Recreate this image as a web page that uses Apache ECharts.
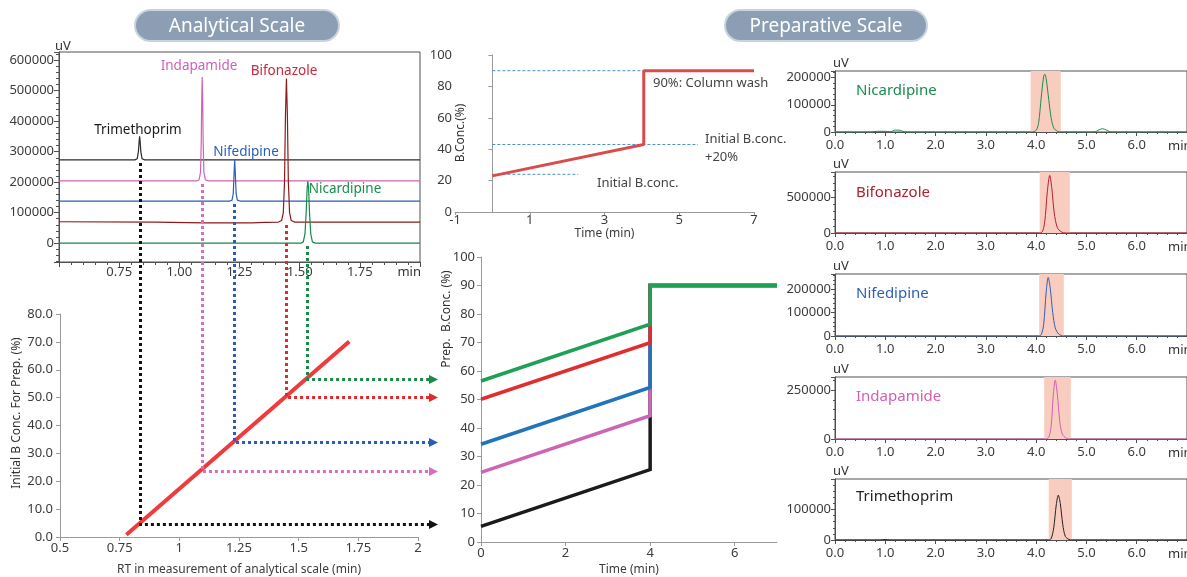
<!DOCTYPE html>
<html><head><meta charset="utf-8">
<script src="https://cdn.jsdelivr.net/npm/echarts@6/dist/echarts.min.js"></script>
<style>html,body{margin:0;padding:0;background:#fff}#c{width:1187px;height:577px}</style>
</head><body><div id="c"></div>
<script>
// ---------------- DATA ----------------
const compounds = ['Trimethoprim', 'Indapamide', 'Nifedipine', 'Bifonazole', 'Nicardipine'];
// analytical scale: retention times, trace baselines (uV) and the derived initial B conc. for prep
const analyticalRT = [0.835, 1.095, 1.230, 1.446, 1.534];
const analyticalBaseline = [273000, 204000, 138000, 69000, 0];
const initialPrepConc = [4.5, 23.8, 34.1, 50.3, 56.8];
const calibrationLine = [[0.778, 0.8], [1.712, 70.1]];

const trimethoprimAnalytical = [[0.5,273000],[0.815,273000],[0.825,277000],[0.830,300000],[0.833,335000],[0.835,350000],[0.837,335000],[0.840,300000],[0.845,277000],[0.856,273000],[2.0,273000]];
const indapamideAnalytical = [[0.5,204000],[1.072,204000],[1.082,208000],[1.088,232000],[1.091,330000],[1.093,470000],[1.095,545000],[1.097,470000],[1.099,330000],[1.102,232000],[1.108,208000],[1.12,204000],[2.0,204000]];
const nifedipineAnalytical = [[0.5,138000],[1.210,138000],[1.219,141000],[1.224,162000],[1.227,220000],[1.230,273000],[1.233,220000],[1.236,162000],[1.241,141000],[1.252,138000],[2.0,138000]];
const bifonazoleAnalytical = [[0.5,70000],[0.9,69000],[1.1,66500],[1.3,66500],[1.355,68000],[1.36,71000],[1.365,68000],[1.41,68500],[1.425,74000],[1.432,100000],[1.437,200000],[1.441,420000],[1.445,540000],[1.449,420000],[1.453,200000],[1.458,100000],[1.465,74000],[1.48,69000],[2.0,69000]];
const nicardipineAnalytical = [[0.5,0],[1.505,0],[1.515,4000],[1.522,30000],[1.527,100000],[1.531,180000],[1.534,203000],[1.537,180000],[1.541,100000],[1.546,30000],[1.553,4000],[1.565,0],[2.0,0]];
const analyticalTraces = [trimethoprimAnalytical, indapamideAnalytical, nifedipineAnalytical, bifonazoleAnalytical, nicardipineAnalytical];

// gradient template (top middle)
const templateTime = [0, 4.05, 4.05, 7];
const templateConc = [23, 43, 90, 90];
const refLevels = [90, 43, 24];
const refEnds = [4.3, 5.5, 2.3];

// prep gradients (bottom middle)
const prepStartConc = [5.5, 24.4, 34.3, 50.1, 56.5];
const prepEndConc = [25.4, 44.3, 54.2, 69.9, 76.4];
const prepGradTime = [0, 4, 4, 7];
const washConc = 90;

// preparative chromatograms (right)
const prepPanels = ['Nicardipine', 'Bifonazole', 'Nifedipine', 'Indapamide', 'Trimethoprim'];
const nicardipinePrep = [[0,0],[0.7,0],[0.85,2500],[1.0,2500],[1.1,1000],[1.2,7000],[1.3,6000],[1.4,0],[3.9,0],[4.0,6000],[4.05,35000],[4.1,125000],[4.15,205000],[4.17,212000],[4.2,195000],[4.25,120000],[4.3,50000],[4.35,15000],[4.42,3000],[4.5,0],[5.15,0],[5.25,8000],[5.32,12000],[5.4,7000],[5.5,0],[7,0]];
const bifonazolePrep = [[0,0],[4.05,0],[4.12,15000],[4.17,150000],[4.22,560000],[4.27,809000],[4.31,640000],[4.36,280000],[4.42,80000],[4.5,15000],[4.6,0],[7,0]];
const nifedipinePrep = [[0,0],[4.05,0],[4.1,5000],[4.15,50000],[4.2,190000],[4.24,251000],[4.28,205000],[4.33,100000],[4.38,35000],[4.45,8000],[4.55,0],[7,0]];
const indapamidePrep = [[0,0],[4.18,0],[4.25,8000],[4.3,70000],[4.34,220000],[4.38,300000],[4.42,230000],[4.47,90000],[4.52,25000],[4.6,4000],[4.7,0],[7,0]];
const trimethoprimPrep = [[0,0],[0.9,0],[1.0,1500],[1.1,0],[4.25,0],[4.3,5000],[4.35,40000],[4.4,115000],[4.44,147000],[4.48,120000],[4.53,50000],[4.58,12000],[4.65,2000],[4.72,0],[7,0]];
const prepTraces = [nicardipinePrep, bifonazolePrep, nifedipinePrep, indapamidePrep, trimethoprimPrep];
const fractionWindows = [[3.89,4.49],[4.07,4.67],[4.06,4.55],[4.16,4.69],[4.25,4.71]];
const prepYMax = [224000, 857000, 266000, 316000, 200000];
const prepYInterval = [100000, 500000, 100000, 250000, 100000];

// ---------------- STYLE ----------------
const FONT = "'Noto Sans', 'Open Sans', sans-serif";
const analyticalColors = ['#2b2b2b', '#d462b4', '#2c5fb3', '#8e1b1b', '#17884a'];
const connectorColors = ['#111111', '#d86cc0', '#2a5cb5', '#e02a2a', '#1a8a46'];
const prepLineColors = ['#1b1b1b', '#cc66b3', '#1f74bb', '#e02e2e', '#1ea154'];
const panelColors = ['#1a8c4c', '#b3202f', '#2f5fb8', '#d060b4', '#222222'];
const panelGrids = [[71,61],[172,61],[274,62],[377,62],[479,61]];

function merge(a, b) {
  const r = Object.assign({}, a);
  for (const k in b) {
    if (b[k] && typeof b[k] === 'object' && !Array.isArray(b[k]) && typeof b[k] !== 'function' && a[k] && typeof a[k] === 'object') r[k] = merge(a[k], b[k]);
    else r[k] = b[k];
  }
  return r;
}
function axis(gi, o) {
  return merge({
    type: 'value', gridIndex: gi, splitLine: {show: false},
    axisLine: {show: true, onZero: false, lineStyle: {color: '#9a9a9a', width: 1}},
    axisTick: {show: true, inside: false, length: 4, lineStyle: {color: '#9a9a9a'}},
    axisLabel: {color: '#3c3c3c', fontSize: 13, fontFamily: FONT, margin: 5},
    nameTextStyle: {color: '#3c3c3c', fontSize: 12, fontFamily: FONT}
  }, o);
}
const dark = {axisLine: {lineStyle: {color: '#505050'}}, axisTick: {lineStyle: {color: '#505050'}}};

const chart = echarts.init(document.getElementById('c'));

const grids = [
  {left: 59, top: 52, width: 361, height: 210, show: true, borderColor: '#505050', borderWidth: 1},
  {left: 60, top: 314, width: 358, height: 224},
  {left: 455, top: 55, width: 299, height: 157},
  {left: 481, top: 257, width: 296, height: 286}
];
panelGrids.forEach(g => grids.push({left: 835, right: -1, top: g[0], height: g[1], show: true, borderColor: '#505050', borderWidth: 1}));

const xAxes = [
  axis(0, merge(dark, {min: 0.5, max: 2, interval: 0.25, axisTick: {length: 5},
    minorTick: {show: true, splitNumber: 5, length: 3, lineStyle: {color: '#505050'}},
    axisLabel: {margin: 4, showMinLabel: false, showMaxLabel: false, formatter: v => v.toFixed(2)}})),
  axis(1, {min: 0.5, max: 2, interval: 0.25, name: 'RT in measurement of analytical scale (min)', nameLocation: 'middle', nameGap: 27,
    axisLabel: {margin: 5, formatter: v => String(Math.round(v * 100) / 100)}}),
  axis(2, {min: -1, max: 7, interval: 2, name: 'Time (min)', nameLocation: 'middle', nameGap: 15, axisTick: {length: 3}, axisLabel: {margin: 2}}),
  axis(3, {min: 0, max: 7, interval: 2, name: 'Time (min)', nameLocation: 'middle', nameGap: 22, axisLabel: {showMaxLabel: false}})
];
const yAxes = [
  axis(0, merge(dark, {min: -62000, max: 627000, splitNumber: 7, axisTick: {length: 5},
    minorTick: {show: true, splitNumber: 5, length: 3, lineStyle: {color: '#505050'}},
    axisLabel: {margin: 5, formatter: v => (Math.abs(v % 100000) < 1 ? String(v) : '')}})),
  axis(1, {min: 0, max: 80, interval: 10, axisLabel: {margin: 7, formatter: v => v.toFixed(1)}}),
  axis(2, {min: 0, max: 100, interval: 20, axisLine: {onZero: true}, axisLabel: {margin: 3}}),
  axis(3, {min: 0, max: 100, interval: 10, axisLabel: {margin: 6}})
];
prepPanels.forEach((n, k) => {
  xAxes.push(axis(4 + k, merge(dark, {min: 0, max: 7, interval: 1,
    minorTick: {show: true, splitNumber: 5, length: 2, lineStyle: {color: '#505050'}},
    axisLabel: {margin: 7, showMaxLabel: false, formatter: v => v.toFixed(1)}})));
  yAxes.push(axis(4 + k, merge(dark, {min: 0, max: prepYMax[k], interval: prepYInterval[k],
    minorTick: {show: true, splitNumber: 5, length: 2, lineStyle: {color: '#505050'}},
    axisLabel: {margin: 4, showMaxLabel: false, formatter: v => String(Math.round(v))}})));
});

const series = [];
analyticalTraces.forEach((d, i) => series.push({
  type: 'line', xAxisIndex: 0, yAxisIndex: 0, data: d, symbol: 'none',
  lineStyle: {color: analyticalColors[i], width: 1.2}, z: 3
}));
series.push({type: 'line', xAxisIndex: 1, yAxisIndex: 1, data: calibrationLine, symbol: 'none',
  lineStyle: {color: '#ef3b3b', width: 4}, z: 3});
refLevels.forEach((lv, i) => series.push({type: 'line', xAxisIndex: 2, yAxisIndex: 2, symbol: 'none',
  data: [[0, lv], [refEnds[i], lv]], lineStyle: {color: '#4a90d0', width: 1, type: [3, 2]}, z: 2}));
series.push({type: 'line', xAxisIndex: 2, yAxisIndex: 2, symbol: 'none',
  data: templateTime.map((t, i) => [t, templateConc[i]]), lineStyle: {color: '#d94c4c', width: 3}, z: 4});
compounds.forEach((n, i) => series.push({type: 'line', xAxisIndex: 3, yAxisIndex: 3, symbol: 'none',
  data: [[prepGradTime[0], prepStartConc[i]], [prepGradTime[1], prepEndConc[i]], [prepGradTime[2], washConc], [prepGradTime[3], washConc]],
  lineStyle: {color: prepLineColors[i], width: 3.5, join: 'miter'}, z: 3 + i}));
prepTraces.forEach((d, k) => series.push({type: 'line', xAxisIndex: 4 + k, yAxisIndex: 4 + k, symbol: 'none',
  data: d, smooth: 0.3, lineStyle: {color: panelColors[k], width: 1},
  markArea: {silent: true, itemStyle: {color: '#f8cdbf', opacity: 1}, data: [[{xAxis: fractionWindows[k][0]}, {xAxis: fractionWindows[k][1]}]]}, z: 3}));

chart.setOption({animation: false, textStyle: {fontFamily: FONT}, grid: grids, xAxis: xAxes, yAxis: yAxes, series: series});

// ---------------- ANNOTATIONS ----------------
function txt(x, y, s, o) {
  o = o || {};
  return {type: 'text', x: x, y: y, rotation: o.rot || 0, z: 60, silent: true,
    style: {text: s, fill: o.color || '#333', fontSize: o.size || 13, fontFamily: FONT, fontWeight: o.weight || 'normal',
      align: o.align || 'left', verticalAlign: 'middle'}};
}
function pill(x, y, w, h, s) {
  return [
    {type: 'rect', z: 55, shape: {x: x, y: y, width: w, height: h, r: h / 2}, style: {fill: '#8b9eb4', stroke: '#c9d3de', lineWidth: 2}},
    txt(x + w / 2, y + h / 2 + 1, s, {color: '#ffffff', size: 19, align: 'center'})
  ];
}
const g = [];
g.push(...pill(135, 10, 204, 31, 'Analytical Scale'));
g.push(...pill(725, 10, 202, 31, 'Preparative Scale'));
g.push(txt(55, 46, 'uV'));
g.push(txt(421, 272, 'min', {align: 'right'}));
const peakLabelPos = [[138, 130], [199, 66], [246, 152], [284, 71], [345, 189]];
const peakLabelColors = ['#1a1a1a', '#d25fb4', '#2a60b8', '#c8283c', '#18904a'];
compounds.forEach((n, i) => g.push(txt(peakLabelPos[i][0], peakLabelPos[i][1], n, {color: peakLabelColors[i], size: 13.5, align: 'center'})));
g.push(txt(17, 413, 'Initial B Conc. For Prep. (%)', {size: 12, align: 'center', rot: Math.PI / 2}));
g.push(txt(447, 319, 'Prep.  B.Conc. (%)', {size: 12, align: 'center', rot: Math.PI / 2}));
g.push(txt(461, 133, 'B.Conc.(%)', {size: 12, align: 'center', rot: Math.PI / 2}));
g.push(txt(653, 83, '90%: Column wash', {color: '#444'}));
g.push(txt(705, 139, 'Initial B.conc.', {color: '#444'}));
g.push(txt(705, 157, '+20%', {color: '#444'}));
g.push(txt(597, 183, 'Initial B.conc.', {color: '#444'}));
const panelNameY = [91, 193, 294, 397, 497];
prepPanels.forEach((n, k) => {
  const top = panelGrids[k][0], bot = panelGrids[k][0] + panelGrids[k][1];
  g.push(txt(833, top - 8, 'uV'));
  g.push(txt(1168, bot + 14, 'min'));
  g.push(txt(856, panelNameY[k], n, {color: panelColors[k], size: 15}));
});
// dotted connectors from analytical peaks to the calibration line and on to the prep gradients
const arrowTipX = 438;
compounds.forEach((n, i) => {
  const top = chart.convertToPixel({gridIndex: 0}, [analyticalRT[i], analyticalBaseline[i]]);
  const corner = chart.convertToPixel({gridIndex: 1}, [analyticalRT[i], initialPrepConc[i]]);
  const x = Math.round(corner[0]) + 0.5, y0 = top[1] + 3, y1 = Math.round(corner[1]) + 0.5;
  g.push({type: 'polyline', z: 50, silent: true, shape: {points: [[x, y0], [x, y1], [arrowTipX - 8, y1]]},
    style: {stroke: connectorColors[i], lineWidth: 3, lineDash: [3, 3], fill: null}});
  g.push({type: 'polygon', z: 50, silent: true, shape: {points: [[arrowTipX - 9, y1 - 4.5], [arrowTipX, y1], [arrowTipX - 9, y1 + 4.5]]},
    style: {fill: connectorColors[i]}});
});
chart.setOption({graphic: g});
</script></body></html>
